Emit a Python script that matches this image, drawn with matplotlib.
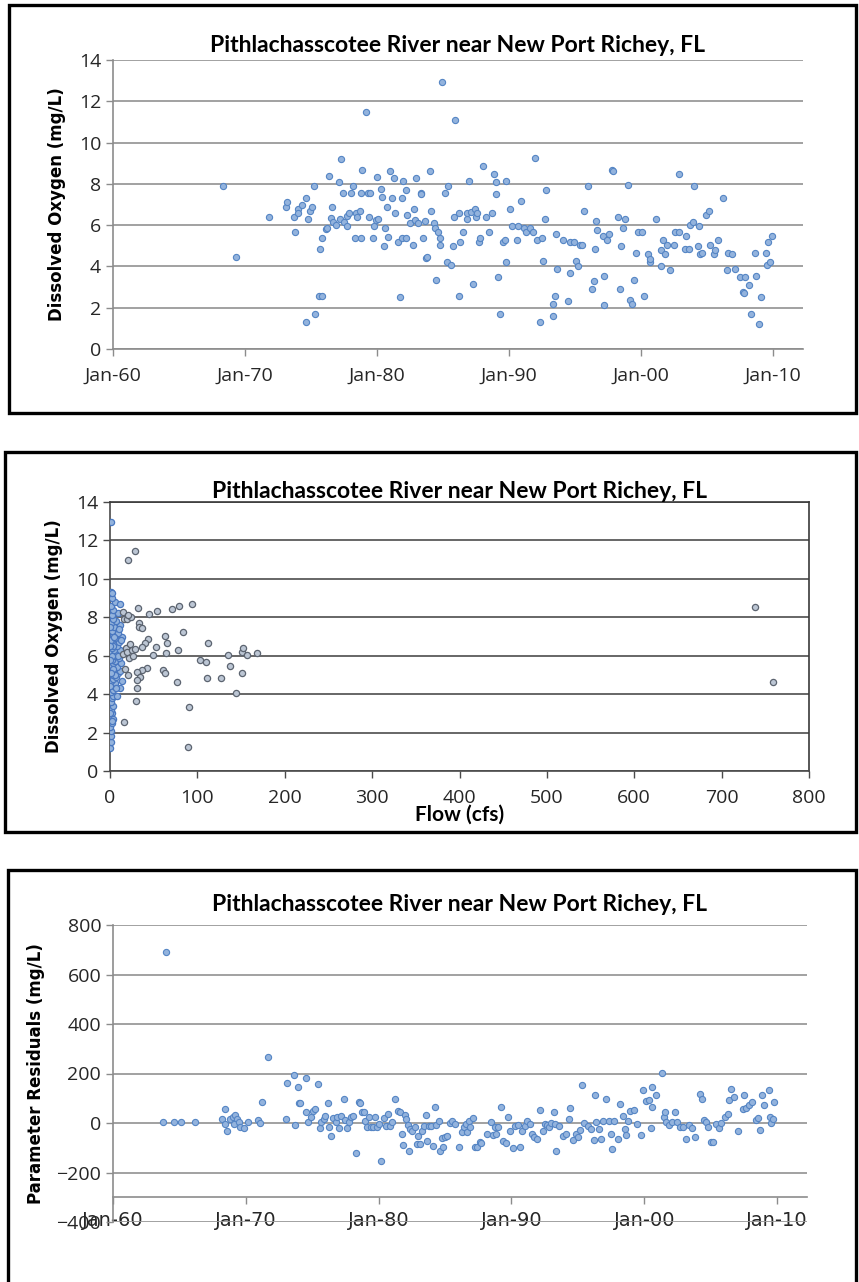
import matplotlib
matplotlib.use("Agg")
import matplotlib.pyplot as plt
from matplotlib.patches import Rectangle

W, H = 859, 1282

TITLE = "Pithlachasscotee River near New Port Richey, FL"

# ---- panel 1: dissolved oxygen over time (decimal years) ----
do_years = [
    1968.3, 1969.3, 1971.8, 1973.1, 1973.2, 1973.7, 1973.8, 1974.0, 1974.0, 1974.3,
    1974.6, 1974.6, 1974.75, 1974.9, 1975.1, 1975.25, 1975.3, 1975.6, 1975.8, 1975.7,
    1975.8, 1976.1, 1976.2, 1976.4, 1976.5, 1976.6, 1976.7, 1976.9, 1977.1, 1977.2,
    1977.3, 1977.4, 1977.5, 1977.7, 1977.7, 1977.9, 1978.0, 1978.2, 1978.3, 1978.4,
    1978.5, 1978.7, 1978.75, 1978.75, 1978.9, 1979.2, 1979.3, 1979.5, 1979.4, 1979.7,
    1979.8, 1979.9, 1980.0, 1980.1, 1980.3, 1980.4, 1980.5, 1980.6, 1980.75, 1980.8,
    1981.0, 1981.1, 1981.3, 1981.35, 1981.6, 1981.75, 1981.9, 1981.95, 1981.9, 1982.2,
    1982.2, 1982.3, 1982.5, 1982.7, 1982.8, 1982.9, 1982.95, 1983.1, 1983.3, 1983.3,
    1983.5, 1983.6, 1983.7, 1983.8, 1984.0, 1984.1, 1984.3, 1984.4, 1984.5, 1984.65,
    1984.8, 1984.8, 1984.9, 1985.15, 1985.3, 1985.4, 1985.6, 1985.75, 1985.8, 1985.9,
    1986.2, 1986.2, 1986.3, 1986.55, 1986.8, 1986.85, 1987.0, 1987.1, 1987.3, 1987.4,
    1987.5, 1987.6, 1987.7, 1987.8, 1988.0, 1988.25, 1988.5, 1988.7, 1988.9, 1989.0,
    1989.0, 1989.2, 1989.3, 1989.55, 1989.7, 1989.75, 1989.8, 1990.05, 1990.2, 1990.6,
    1990.7, 1990.9, 1991.1, 1991.3, 1991.6, 1991.8, 1992.0, 1992.1, 1992.35, 1992.5,
    1992.6, 1992.75, 1992.8, 1993.3, 1993.3, 1993.5, 1993.55, 1993.65, 1994.1, 1994.5,
    1994.6, 1994.6, 1994.9, 1995.05, 1995.2, 1995.4, 1995.5, 1995.65, 1996.0, 1996.3,
    1996.4, 1996.5, 1996.6, 1996.7, 1997.1, 1997.2, 1997.2, 1997.45, 1997.6, 1997.8,
    1997.85, 1998.25, 1998.4, 1998.5, 1998.6, 1998.8, 1999.0, 1999.2, 1999.35, 1999.5,
    1999.65, 1999.8, 2000.1, 2000.2, 2000.5, 2000.65, 2000.7, 2001.1, 2001.5, 2001.5,
    2001.65, 2001.8, 2002.0, 2002.2, 2002.5, 2002.6, 2002.85, 2002.9, 2003.35, 2003.6,
    2003.4, 2003.7, 2003.95, 2004.0, 2004.35, 2004.4, 2004.5, 2004.6, 2004.9, 2005.15,
    2005.25, 2005.5, 2005.6, 2005.85, 2006.2, 2006.5, 2006.6, 2006.9, 2007.1, 2007.5,
    2007.9, 2007.7, 2007.8, 2008.2, 2008.35, 2008.6, 2008.7, 2008.9, 2009.1, 2009.45,
    2009.55, 2009.6, 2009.8, 2009.9,
]
do_values = [
    7.9, 4.47, 6.38, 6.9, 7.1, 6.38, 5.65, 6.77, 6.57, 6.98,
    7.31, 1.31, 6.31, 6.7, 6.9, 7.9, 1.71, 2.58, 2.58, 4.86,
    5.39, 5.8, 5.85, 8.36, 6.33, 6.9, 6.17, 6.0, 8.09, 6.31,
    9.19, 7.56, 6.17, 6.44, 5.97, 6.57, 7.56, 7.9, 5.39, 6.57,
    6.38, 6.7, 7.56, 5.39, 8.67, 11.5, 7.56, 7.56, 6.38, 5.39,
    5.97, 6.25, 8.35, 6.31, 7.77, 7.36, 4.99, 5.85, 6.9, 5.44,
    8.62, 7.3, 8.27, 6.57, 5.2, 2.52, 7.3, 8.15, 5.39, 7.7,
    5.39, 6.51, 6.12, 5.05, 6.77, 6.25, 8.28, 6.12, 7.56, 7.49,
    5.39, 6.18, 4.39, 4.47, 8.62, 6.7, 6.12, 5.85, 3.36, 5.65,
    5.05, 5.39, 12.93, 7.56, 4.2, 7.9, 4.07, 4.99, 6.38, 11.11,
    6.57, 2.58, 5.2, 5.65, 6.31, 6.57, 8.15, 6.65, 3.16, 6.77,
    6.38, 6.57, 5.2, 5.39, 8.88, 6.38, 5.65, 6.57, 8.49, 7.49,
    8.09, 3.49, 1.71, 5.2, 5.26, 4.2, 8.15, 6.78, 5.97, 5.26,
    5.97, 7.17, 5.85, 5.65, 5.85, 5.65, 9.27, 5.26, 1.32, 5.39,
    4.28, 6.31, 7.7, 1.58, 2.18, 2.58, 5.59, 3.88, 5.26, 2.31,
    3.68, 5.2, 5.2, 4.28, 4.0, 5.05, 5.05, 6.7, 7.9, 2.91,
    3.29, 4.86, 6.18, 5.78, 5.46, 3.55, 2.11, 5.26, 5.59, 8.67,
    8.62, 6.38, 2.91, 4.99, 5.85, 6.31, 7.96, 2.37, 2.18, 3.34,
    4.67, 5.65, 5.65, 2.58, 4.6, 4.2, 4.34, 6.31, 4.0, 4.8,
    5.26, 4.6, 5.05, 3.83, 5.05, 5.65, 5.65, 8.49, 4.86, 4.86,
    5.46, 5.99, 6.14, 7.9, 4.99, 5.97, 4.6, 4.67, 6.51, 6.7,
    5.05, 4.6, 4.8, 5.26, 7.3, 3.83, 4.67, 4.6, 3.88, 3.5,
    3.5, 2.78, 2.7, 3.1, 1.71, 4.67, 3.55, 1.19, 2.5, 4.67,
    4.07, 5.2, 4.2, 5.46,
]

# ---- panel 2: dissolved oxygen against flow ----
flow_cfs = [
    0.5, 1, 0.8, 1.5, 0.5, 2, 1, 2.5, 1.2, 3, 0.8, 2, 4, 1.5, 3, 5, 2.5, 6, 1, 4,
    7, 3, 9, 2, 5, 11, 8, 1.5, 4, 13, 6, 2, 10, 3.5, 7, 15, 1, 5, 12, 2.5,
    8, 18, 4, 10, 1.5, 6, 14, 3, 9, 2, 5, 12, 1, 7, 3.5, 16, 2, 9, 4, 1,
    6, 2.5, 1.5, 20, 22, 25, 19, 24, 17, 14, 21, 11, 8, 23, 26, 15, 12, 6, 9, 3,
    5, 4, 7, 2, 1, 10, 13, 0.5, 0.5, 0.5, 0.5, 0.5, 3,
    0.8, 21, 28.6, 2.7, 32.4, 45, 53.4, 70.6, 78.9, 94.2, 21, 32.8, 33.5, 36.2,
    63, 64.8, 83.2, 112.5, 43.9, 40, 36.2, 28.6, 52.6, 48.9, 63.7, 78.2, 103,
    109.8, 135.4, 150.7, 156.4, 167.8, 152.5, 137.3, 150.7, 110.6, 126.6, 77,
    61, 63, 42, 36.2, 30.5, 34.3, 30.5, 30.5, 29.7, 144.2, 90.8, 16, 1.9, 89.6,
    738.6, 758.6,
]
flow_do = [
    1.2, 1.5, 1.8, 2.1, 2.3, 2.5, 2.8, 3.0, 3.2, 3.4, 3.6, 3.8, 3.9, 4.1, 4.2, 4.4, 4.5, 4.6, 4.7, 4.8,
    4.9, 5.0, 5.1, 5.2, 5.3, 5.2, 5.4, 5.5, 5.6, 5.6, 5.7, 5.8, 5.9, 6.0, 6.1, 6.1, 6.2, 6.3, 6.3, 6.4,
    6.5, 6.4, 6.6, 6.7, 6.8, 6.9, 7.0, 7.1, 7.2, 7.3, 7.5, 7.6, 7.7, 7.8, 7.9, 7.9, 8.1, 8.2, 8.4, 8.6,
    8.8, 9.0, 9.3, 6.2, 5.9, 6.3, 7.9, 8.0, 5.3, 4.7, 5.0, 4.3, 3.9, 6.6, 6.0, 8.3, 8.7, 5.0, 6.0, 6.5,
    7.0, 5.3, 4.3, 6.0, 5.1, 7.4, 6.8, 6.5, 5.8, 7.5, 4.4, 3.0, 2.7,
    12.96, 11.0, 11.47, 9.25, 8.47, 8.17, 8.35, 8.43, 8.59, 8.68, 8.12, 7.69, 7.51, 7.43,
    7.03, 6.65, 7.22, 6.68, 6.87, 6.65, 6.47, 6.33, 6.47, 6.04, 6.16, 6.3, 5.78,
    5.69, 6.04, 6.21, 6.04, 6.13, 6.39, 5.47, 5.08, 4.82, 4.82, 4.65,
    5.26, 5.08, 5.35, 5.26, 5.17, 4.91, 4.74, 4.3, 3.66, 4.08, 3.31, 2.57, 2.62, 1.23,
    8.55, 4.63,
]

# ---- panel 3: parameter residuals over time ----
res_years = [
    1963.8, 1964.0, 1964.6, 1965.1, 1966.2, 1968.2, 1968.4, 1968.45, 1968.6, 1968.8,
    1969.07, 1969.2, 1969.36, 1969.1, 1969.5, 1969.6, 1969.9, 1970.2, 1970.9, 1971.1,
    1971.2, 1971.7, 1973.0, 1973.1, 1973.6, 1973.7, 1973.9, 1974.0, 1974.1, 1974.5,
    1974.5, 1974.7, 1974.9, 1975.05, 1975.2, 1975.4, 1975.6, 1975.7, 1975.9, 1976.0,
    1976.2, 1976.3, 1976.45, 1976.6, 1976.8, 1976.9, 1977.05, 1977.2, 1977.4, 1977.5,
    1977.65, 1977.8, 1977.9, 1978.1, 1978.3, 1978.5, 1978.6, 1978.75, 1978.9, 1979.0,
    1979.15, 1979.3, 1979.45, 1979.6, 1979.7, 1979.85, 1980.05, 1980.2, 1980.4, 1980.57,
    1980.7, 1980.86, 1981.0, 1981.23, 1981.43, 1981.6, 1981.76, 1981.85, 1981.97, 1982.1,
    1982.18, 1982.26, 1982.38, 1982.55, 1982.75, 1982.88, 1983.0, 1983.12, 1983.25, 1983.41,
    1983.54, 1983.62, 1983.78, 1983.95, 1984.11, 1984.24, 1984.36, 1984.53, 1984.65, 1984.77,
    1984.86, 1985.0, 1985.14, 1985.35, 1985.52, 1985.76, 1986.09, 1986.26, 1986.42, 1986.59,
    1986.67, 1986.83, 1986.92, 1987.08, 1987.25, 1987.41, 1987.62, 1987.74, 1988.15, 1988.44,
    1988.61, 1988.73, 1988.85, 1989.02, 1989.18, 1989.35, 1989.56, 1989.72, 1989.88, 1990.09,
    1990.3, 1990.5, 1990.67, 1990.83, 1991.0, 1991.16, 1991.37, 1991.53, 1991.74, 1991.95,
    1992.15, 1992.36, 1992.56, 1992.69, 1992.81, 1992.98, 1993.18, 1993.31, 1993.39, 1993.59,
    1993.88, 1994.13, 1994.34, 1994.42, 1994.62, 1994.83, 1995.04, 1995.16, 1995.33, 1995.49,
    1995.74, 1995.99, 1996.23, 1996.27, 1996.4, 1996.56, 1996.77, 1996.89, 1997.14, 1997.35,
    1997.47, 1997.55, 1997.72, 1998.0, 1998.21, 1998.42, 1998.54, 1998.66, 1998.79, 1998.95,
    1999.2, 1999.49, 1999.74, 1999.9, 2000.11, 2000.36, 2000.48, 2000.6, 2000.6, 2000.89,
    2001.34, 2001.47, 2001.55, 2001.67, 2001.84, 2002.09, 2002.29, 2002.5, 2002.66, 2002.91,
    2003.16, 2003.4, 2003.57, 2003.82, 2004.23, 2004.35, 2004.52, 2004.64, 2004.81, 2005.01,
    2005.18, 2005.38, 2005.63, 2005.8, 2006.12, 2006.29, 2006.41, 2006.5, 2006.74, 2007.07,
    2007.44, 2007.53, 2007.69, 2007.86, 2008.14, 2008.43, 2008.56, 2008.72, 2008.85, 2009.05,
    2009.38, 2009.46, 2009.55, 2009.71, 2009.79,
]
res_values = [
    3, 690, 3, 3, 3, 16, 57, -4, -34, 16,
    23, 34, 16, -4, 4, -17, -20, 4, 12, -1,
    84, 265, 16, 161, 194, -7, 146, 81, 81, 183,
    43, 3, 26, 47, 57, 156, -20, 3, 16, 27,
    80, -17, -51, 20, 3, 23, -20, 30, 97, 12,
    -20, 3, 23, 27, -120, 84, 80, 43, 43, 9,
    -17, 23, -17, -17, 23, -17, -4, -152, 19, -14,
    37, -14, 3, 97, 48, 44, -44, -88, 34, 17,
    -10, -114, -24, -31, -17, -85, -52, -85, -31, -14,
    32, -71, -14, -14, -92, 64, -10, 7, -114, -62,
    -96, -58, -54, -1, 10, -3, -98, -37, -17, -3,
    -37, 7, -17, 21, -96, -96, -78, -82, -44, 3,
    -47, -17, -44, -17, 64, -74, -82, 24, -33, -101,
    -14, -10, -98, -31, -14, 10, -3, -44, -58, -65,
    53, -31, -3, -10, -17, -1, 44, -3, -112, -14,
    -51, -44, 17, 60, -67, -44, -58, -27, 152, -1,
    -14, -24, -67, 112, 3, -25, -65, 10, 98, 10,
    -44, -105, 10, -65, 75, 30, -24, -47, 7, 48,
    53, -6, -48, 135, 89, 91, -20, 64, 145, 112,
    204, 26, 44, 3, -10, 3, 44, 3, -17, -17,
    -65, -10, -20, -55, 118, 98, 13, 3, -17, -78,
    -78, -3, -20, 0, 26, 37, 91, 139, 105, -31,
    57, 112, 61, 71, 85, 13, 21, -28, 112, 71,
    132, 26, -1, 17, 85,
]

year_ticks = [1960, 1970, 1980, 1990, 2000, 2010]
year_labels = ["Jan-60", "Jan-70", "Jan-80", "Jan-90", "Jan-00", "Jan-10"]

TICK_FONT = "Open Sans"
TITLE_FONT = "Lato"
MARKER_FACE = "#93b3dd"
MARKER_EDGE = "#5585c4"


def px_rect(left, top, right, bottom):
    return [left / W, 1 - bottom / H, (right - left) / W, (bottom - top) / H]


def frame(fig, left, top, right, bottom):
    fig.add_artist(Rectangle((left / W, 1 - bottom / H), (right - left) / W,
                             (bottom - top) / H, transform=fig.transFigure,
                             fill=False, edgecolor="black", linewidth=2.4,
                             clip_on=False))


def style_axes(ax, grid_color, axis_color):
    for side in ["top", "right"]:
        ax.spines[side].set_visible(False)
    for side in ["left", "bottom"]:
        ax.spines[side].set_color(axis_color)
        ax.spines[side].set_linewidth(1.2)
    ax.yaxis.grid(True, color=grid_color, linewidth=1.3)
    ax.set_axisbelow(True)
    ax.tick_params(axis="both", colors=axis_color, length=5, width=1.0,
                   labelcolor="#262626", labelsize=14)
    for lab in ax.get_xticklabels() + ax.get_yticklabels():
        lab.set_fontfamily(TICK_FONT)


fig = plt.figure(figsize=(W / 100, H / 100), dpi=100)

# -------- panel 1 --------
frame(fig, 9, 5, 856, 413)
ax1 = fig.add_axes(px_rect(113, 60, 803, 349))
ax1.scatter(do_years, do_values, s=20, facecolor=MARKER_FACE,
            edgecolor=MARKER_EDGE, linewidths=0.8, zorder=3)
ax1.set_xlim(1960, 2012.27)
ax1.set_ylim(0, 14)
ax1.set_yticks(range(0, 15, 2))
ax1.set_xticks(year_ticks)
ax1.set_xticklabels(year_labels)
style_axes(ax1, "#9a9a9a", "#8c8c8c")
ax1.tick_params(axis="x", pad=8)
ax1.set_title(TITLE, fontfamily=TITLE_FONT, fontweight="bold", fontsize=16.5,
              pad=6)
ax1.set_ylabel("Dissolved Oxygen (mg/L)", fontfamily="DejaVu Sans",
               fontweight="bold", fontsize=12, labelpad=9)

# -------- panel 2 --------
frame(fig, 5, 452, 856, 832)
ax2 = fig.add_axes(px_rect(110, 502, 809, 771))
near = [f < 15 for f in flow_cfs]
ax2.scatter([f for f, n in zip(flow_cfs, near) if n],
            [d for d, n in zip(flow_do, near) if n],
            s=20, facecolor=MARKER_FACE, edgecolor="#4a78c0",
            linewidths=0.9, zorder=3)
ax2.scatter([f for f, n in zip(flow_cfs, near) if not n],
            [d for d, n in zip(flow_do, near) if not n],
            s=20, facecolor="#bcc6d4", edgecolor="#5c6470",
            linewidths=0.9, zorder=3)
ax2.set_xlim(0, 800)
ax2.set_ylim(0, 14)
ax2.set_yticks(range(0, 15, 2))
ax2.set_xticks(range(0, 801, 100))
style_axes(ax2, "#5a5a5a", "#4a4a4a")
for side in ["top", "right"]:
    ax2.spines[side].set_visible(True)
    ax2.spines[side].set_color("#3a3a3a")
    ax2.spines[side].set_linewidth(1.2)
ax2.tick_params(axis="x", pad=8)
ax2.set_title(TITLE, fontfamily=TITLE_FONT, fontweight="bold", fontsize=16.5,
              pad=3)
ax2.set_ylabel("Dissolved Oxygen (mg/L)", fontfamily="DejaVu Sans",
               fontweight="bold", fontsize=12, labelpad=9)
fig.text(460 / W, 1 - 815 / H, "Flow (cfs)", fontfamily=TITLE_FONT,
         fontweight="bold", fontsize=15, ha="center", va="center")

# -------- panel 3 --------
frame(fig, 8, 870, 856, 1300)
ax3 = fig.add_axes(px_rect(113, 925, 807, 1222))
ax3.scatter(res_years, res_values, s=20, facecolor=MARKER_FACE,
            edgecolor=MARKER_EDGE, linewidths=0.8, zorder=3)
ax3.set_xlim(1960, 2012.26)
ax3.set_ylim(-400, 800)
ax3.set_yticks(range(-400, 801, 200))
ax3.set_xticks(year_ticks)
ax3.set_xticklabels(year_labels)
style_axes(ax3, "#9a9a9a", "#8c8c8c")
ax3.spines["bottom"].set_position(("data", -300))
ax3.tick_params(axis="x", pad=5)
ax3.set_title(TITLE, fontfamily=TITLE_FONT, fontweight="bold", fontsize=16.5,
              pad=10)
ax3.set_ylabel("Parameter Residuals (mg/L)", fontfamily="DejaVu Sans",
               fontweight="bold", fontsize=12, labelpad=8)

fig.savefig("out.png", dpi=100)
